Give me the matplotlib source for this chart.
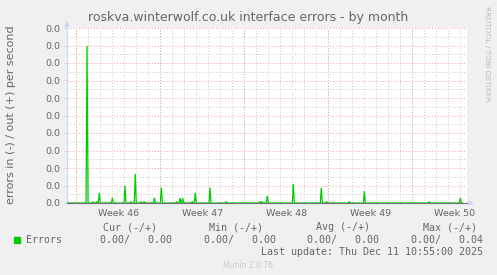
import numpy as np
import matplotlib
matplotlib.use("Agg")
import matplotlib.pyplot as plt
from matplotlib.patches import Rectangle

# x axis in days from the left edge of the month window
week_starts = [0.79, 7.79, 14.79, 21.79, 28.79]
week_labels = ["Week 46", "Week 47", "Week 48", "Week 49", "Week 50"]
day_lines = [0.79 + d for d in range(-1, 33)]

# error spikes (out, +), errors per second
spike_day = [1.67, 2.19, 2.48, 2.69, 3.78, 4.83, 5.31, 5.69, 6.17, 6.44,
             7.28, 7.86, 9.14, 9.42, 9.64, 10.44, 10.69, 11.92, 13.28,
             16.08, 16.25, 16.69, 18.86, 21.19, 21.64, 23.53, 24.78,
             30.19, 32.78]
spike_val = [0.0449, 0.0004, 0.0004, 0.0029, 0.0015, 0.0049, 0.0004, 0.0083,
             0.0004, 0.0004, 0.0015, 0.0044, 0.0004, 0.0014, 0.0014, 0.0004,
             0.0029, 0.0044, 0.0004, 0.0004, 0.0004, 0.0020, 0.0054, 0.0043,
             0.0004, 0.0004, 0.0034, 0.0004, 0.0015]

legend_cols = ["Cur (-/+)", "Min (-/+)", "Avg (-/+)", "Max (-/+)"]
legend_in = [0.00, 0.00, 0.00, 0.00]
legend_out = [0.00, 0.00, 0.00, 0.04]

W, H = 497, 275
FONT = "#666666"
AXIS = "#CFD6F8"

fig = plt.figure(figsize=(W / 100, H / 100), dpi=100, facecolor="#f0f0f0")
ax = fig.add_axes([67 / W, 72 / H, 400 / W, 175 / H], facecolor="white")

xmax = 400 / 12
ymax = 0.05
ax.set_xlim(0, xmax)
ax.set_ylim(0, ymax)

# grid, drawn by hand like rrdtool
for y in np.arange(0.0025, ymax, 0.005):
    ax.axhline(y, color="#c8c8c8", lw=0.7, ls=(0, (1, 2)), zorder=1)
for d in day_lines:
    ax.axvline(d, color="#c8c8c8", lw=0.7, ls=(0, (1, 2)), zorder=1)
for y in np.arange(0.005, ymax + 0.001, 0.005):
    ax.axhline(y, color="#f0a0a0", lw=0.7, ls=(0, (1, 2)), zorder=2)
for d in week_starts:
    ax.axvline(d, color="#f0a0a0", lw=0.7, ls=(0, (1, 2)), zorder=2)

# build the line from the spikes (2h steps)
step = 1 / 12
t = [0.0]
v = [0.0]
for d, val in zip(spike_day, spike_val):
    t += [d - step, d, d + step]
    v += [0.0, val, 0.0]
t.append(32.95)
v.append(0.0)
ax.plot(t, v, color="#00cc00", lw=0.9, zorder=3, solid_joinstyle="miter")

# axes
for s in ["top", "right"]:
    ax.spines[s].set_visible(False)
ax.spines["left"].set_color(AXIS)
ax.spines["bottom"].set_color("#707080")
ax.spines["bottom"].set_zorder(4)
ax.plot([0], [1 + 4 / 175], marker="^", color=AXIS, ms=5, mew=0,
        transform=ax.transAxes, clip_on=False)
ax.plot([1 + 4 / 400], [0], marker=">", color=AXIS, ms=5, mew=0,
        transform=ax.transAxes, clip_on=False)

ax.set_yticks(np.arange(0, ymax + 0.001, 0.005))
ax.set_yticklabels(["0.0"] * 11)
ax.tick_params(axis="y", length=2, color=AXIS, pad=3, labelsize=6.8, labelcolor=FONT)
ax.set_xticks([w + 3.5 for w in week_starts])
ax.set_xticklabels(week_labels)
ax.tick_params(axis="x", length=0, pad=4, labelsize=6.8, labelcolor=FONT)

fig.text(248 / W, 1 - 18 / H, "roskva.winterwolf.co.uk interface errors - by month",
         ha="center", va="center", fontsize=9, color=FONT)
fig.text(11 / W, 1 - 115 / H, "errors in (-) / out (+) per second", rotation=90,
         ha="center", va="center", fontsize=8, color=FONT)
fig.text(487 / W, 1 - 54 / H, "RRDTOOL / TOBI OETIKER", rotation=-90,
         ha="center", va="center", fontsize=5.4, color="#bbbbbb")

# legend
mono = "DejaVu Sans Mono"
col_x = [103, 209, 316, 423]
val_x = [100, 204, 307, 411]
for cx, name in zip(col_x, legend_cols):
    fig.text(cx / W, 1 - 227 / H, name, family=mono, fontsize=7.2, color=FONT,
             ha="left", va="center")
fig.patches.append(Rectangle((14 / W, 1 - 243 / H), 6 / W, 6 / H,
                             transform=fig.transFigure, color="#00cc00"))
fig.text(26 / W, 1 - 240 / H, "Errors", family=mono, fontsize=7.2, color=FONT,
         ha="left", va="center")
for vx, a, b in zip(val_x, legend_in, legend_out):
    fig.text(vx / W, 1 - 240 / H, f"{a:.2f}/{b:7.2f}", family=mono, fontsize=7.2,
             color=FONT, ha="left", va="center")
fig.text(483 / W, 1 - 252 / H, "Last update: Thu Dec 11 10:55:00 2025", family=mono,
         fontsize=7.2, color=FONT, ha="right", va="center")
fig.text(248 / W, 1 - 265 / H, "Munin 2.0.76", fontsize=5.5, color="#c8c8c8",
         ha="center", va="center")

fig.savefig("out.png", dpi=100, facecolor=fig.get_facecolor())
